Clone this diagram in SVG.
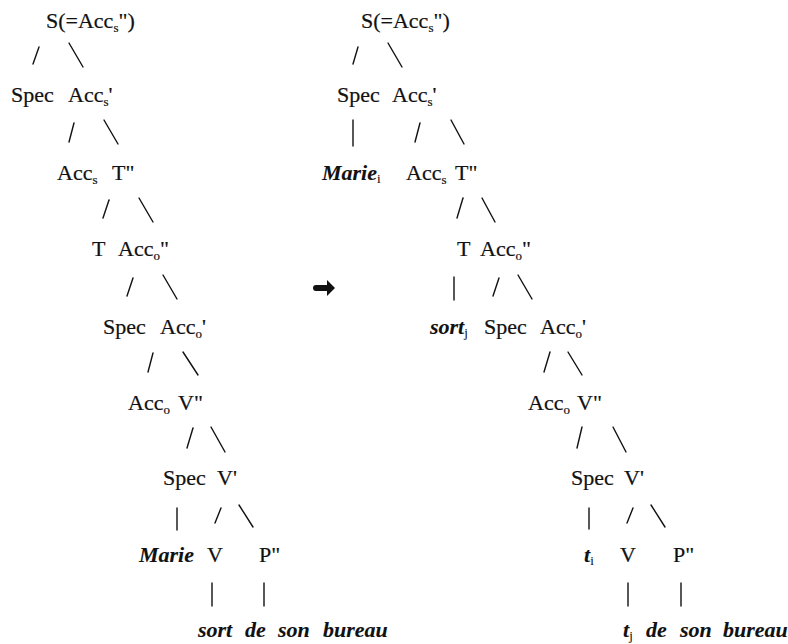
<svg xmlns="http://www.w3.org/2000/svg" width="788" height="644" viewBox="0 0 788 644">
  <style>
    text { font-family: "Liberation Serif", Tinos, "Times New Roman", "DejaVu Serif", serif; font-size: 22px; fill: #111; stroke: #111; stroke-width: 0.2; }
    .bi { font-weight: bold; font-style: italic; stroke-width: 0.1; }
    .sub { font-size: 13px; font-weight: normal; font-style: normal; }
    .edge { stroke: #111; stroke-width: 1.4; fill: none; stroke-linecap: round; }
  </style>
  <rect width="788" height="644" fill="#fff"/>

  <!-- Left tree: base structure -->
  <g id="left-tree">
    <g id="L-S"><text x="46" y="28">S(=Acc<tspan class="sub" dy="4">s</tspan><tspan dy="-4">")</tspan></text></g>
    <g id="L-Spec1"><text x="11" y="102">Spec</text></g>
    <g id="L-Accs1"><text x="68" y="102">Acc<tspan class="sub" dy="4">s</tspan><tspan dy="-4">'</tspan></text></g>
    <g id="L-Accs0"><text x="57" y="180">Acc<tspan class="sub" dy="4">s</tspan></text></g>
    <g id="L-T2"><text x="112" y="180">T"</text></g>
    <g id="L-T0"><text x="92" y="256">T</text></g>
    <g id="L-Acco2"><text x="118" y="256">Acc<tspan class="sub" dy="4">o</tspan><tspan dy="-4">"</tspan></text></g>
    <g id="L-Spec2"><text x="103" y="334">Spec</text></g>
    <g id="L-Acco1"><text x="160" y="334">Acc<tspan class="sub" dy="4">o</tspan><tspan dy="-4">'</tspan></text></g>
    <g id="L-Acco0"><text x="128" y="410">Acc<tspan class="sub" dy="4">o</tspan></text></g>
    <g id="L-V2"><text x="178" y="410">V"</text></g>
    <g id="L-Spec3"><text x="163" y="485">Spec</text></g>
    <g id="L-V1"><text x="217" y="485">V'</text></g>
    <g id="L-Marie"><text class="bi" x="139" y="562">Marie</text></g>
    <g id="L-V0"><text x="207" y="562">V</text></g>
    <g id="L-P2"><text x="259" y="562">P"</text></g>
    <g id="L-sort"><text class="bi" x="198" y="637">sort</text></g>
    <g id="L-pp"><text class="bi" y="637"><tspan x="245">de</tspan><tspan x="278">son</tspan><tspan x="323">bureau</tspan></text></g>
  </g>

  <!-- Right tree: after movement -->
  <g id="right-tree">
    <g id="R-S"><text x="361" y="28">S(=Acc<tspan class="sub" dy="4">s</tspan><tspan dy="-4">")</tspan></text></g>
    <g id="R-Spec1"><text x="337" y="102">Spec</text></g>
    <g id="R-Accs1"><text x="392" y="102">Acc<tspan class="sub" dy="4">s</tspan><tspan dy="-4">'</tspan></text></g>
    <g id="R-Marie"><text class="bi" x="322" y="180">Marie<tspan class="sub" dy="3">i</tspan></text></g>
    <g id="R-Accs0"><text x="406" y="180">Acc<tspan class="sub" dy="4">s</tspan></text></g>
    <g id="R-T2"><text x="455" y="180">T"</text></g>
    <g id="R-T0"><text x="457" y="256">T</text></g>
    <g id="R-Acco2"><text x="480" y="256">Acc<tspan class="sub" dy="4">o</tspan><tspan dy="-4">"</tspan></text></g>
    <g id="R-sort"><text class="bi" x="430" y="334">sort<tspan class="sub" dy="3">j</tspan></text></g>
    <g id="R-Spec2"><text x="484" y="334">Spec</text></g>
    <g id="R-Acco1"><text x="540" y="334">Acc<tspan class="sub" dy="4">o</tspan><tspan dy="-4">'</tspan></text></g>
    <g id="R-Acco0"><text x="528" y="410">Acc<tspan class="sub" dy="4">o</tspan></text></g>
    <g id="R-V2"><text x="577" y="410">V"</text></g>
    <g id="R-Spec3"><text x="571" y="485">Spec</text></g>
    <g id="R-V1"><text x="624" y="485">V'</text></g>
    <g id="R-ti"><text class="bi" x="584" y="562">t<tspan class="sub" dy="3">i</tspan></text></g>
    <g id="R-V0"><text x="620" y="562">V</text></g>
    <g id="R-P2"><text x="673" y="562">P"</text></g>
    <g id="R-tj"><text class="bi" x="623" y="637">t<tspan class="sub" dy="3">j</tspan></text></g>
    <g id="R-pp"><text class="bi" y="637"><tspan x="646">de</tspan><tspan x="680">son</tspan><tspan x="723">bureau</tspan></text></g>
  </g>

  <!-- Branches -->
  <g id="connectors" class="edge">
    <!-- left tree -->
    <line x1="39" y1="47" x2="33" y2="64"/>
    <line x1="69" y1="43" x2="83" y2="67"/>
    <line x1="74" y1="123" x2="69" y2="142"/>
    <line x1="104" y1="120" x2="118" y2="144"/>
    <line x1="109" y1="200" x2="103" y2="218"/>
    <line x1="139" y1="198" x2="153" y2="222"/>
    <line x1="133" y1="278" x2="127" y2="296"/>
    <line x1="163" y1="275" x2="177" y2="299"/>
    <line x1="153" y1="353" x2="148" y2="372"/>
    <line x1="183" y1="352" x2="198" y2="375"/>
    <line x1="193" y1="428" x2="187" y2="448"/>
    <line x1="211" y1="427" x2="225" y2="452"/>
    <line x1="177" y1="508" x2="177" y2="530"/>
    <line x1="221" y1="508" x2="215" y2="523"/>
    <line x1="239" y1="505" x2="253" y2="527"/>
    <line x1="212" y1="583" x2="212" y2="606"/>
    <line x1="264" y1="583" x2="264" y2="606"/>
    <!-- right tree -->
    <line x1="358" y1="47" x2="353" y2="64"/>
    <line x1="388" y1="43" x2="402" y2="67"/>
    <line x1="353" y1="120" x2="353" y2="146"/>
    <line x1="420" y1="123" x2="415" y2="142"/>
    <line x1="451" y1="120" x2="464" y2="144"/>
    <line x1="463" y1="198" x2="457" y2="218"/>
    <line x1="482" y1="198" x2="495" y2="222"/>
    <line x1="454" y1="277" x2="454" y2="300"/>
    <line x1="499" y1="278" x2="493" y2="296"/>
    <line x1="518" y1="275" x2="532" y2="299"/>
    <line x1="550" y1="352" x2="544" y2="372"/>
    <line x1="568" y1="352" x2="582" y2="375"/>
    <line x1="582" y1="427" x2="577" y2="448"/>
    <line x1="613" y1="427" x2="626" y2="452"/>
    <line x1="589" y1="508" x2="589" y2="529"/>
    <line x1="633" y1="508" x2="627" y2="523"/>
    <line x1="651" y1="505" x2="665" y2="527"/>
    <line x1="628" y1="583" x2="628" y2="606"/>
    <line x1="681" y1="583" x2="681" y2="606"/>
  </g>

  <!-- Derivation arrow between the two trees -->
  <g id="arrow">
    <path d="M316 285 H327 V280 L335 288 L327 296 V291 H316 A3 3 0 0 1 316 285 Z" fill="#111"/>
  </g>
</svg>
